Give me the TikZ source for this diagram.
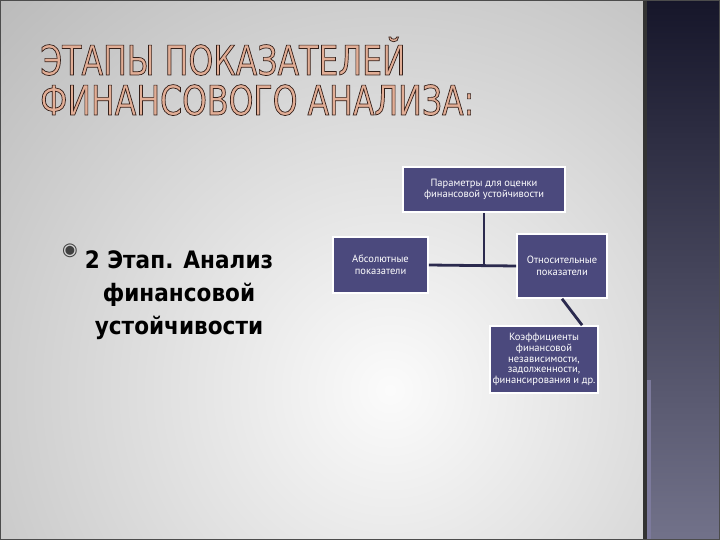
\documentclass[tikz,border=0pt]{standalone}
\usepackage{fontspec}
\setmainfont{PT Sans}
\newfontfamily\titlefont[FakeStretch=0.77]{DejaVu Sans}
\newfontfamily\stagefont[FakeStretch=0.9]{DejaVu Sans Bold}
\newfontfamily\symfont{DejaVu Sans}
\usetikzlibrary{positioning}
\definecolor{boxFill}{HTML}{4B497D}
\definecolor{linkDark}{HTML}{2B2A4E}
\definecolor{titleCopper}{HTML}{E2AE96}
\definecolor{stripTop}{HTML}{16162A}
\definecolor{stripBottom}{HTML}{72728A}
\definecolor{stripEdge}{HTML}{7C7A9C}
\newcommand{\outlinedText}[1]{\special{pdf:literal direct 2 Tr 0.7 w 0.2 0.12 0.1 RG}#1\special{pdf:literal direct 0 Tr}}

\begin{document}
\begin{tikzpicture}[x=1pt, y=-1pt,
	paramBox/.style={rectangle, draw=white, line width=1.6pt, fill=boxFill, text=white, align=center, inner sep=2pt, font=\fontsize{10.5}{11.5}\selectfont},
	link/.style={draw=linkDark, line width=2.8pt}]
		\useasboundingbox (0,0) rectangle (720,540);

		% slide background
		\fill[gray!80] (0,0) rectangle (643,540);
		\begin{scope}
			\clip (0,0) rectangle (643,540);
			\shade[inner color=white!97!gray, outer color=gray!80] (390,390) circle (840);
		\end{scope}
		\shade[top color=stripTop, bottom color=stripBottom] (643,0) rectangle (720,540);
		\fill[black!80] (643,0) rectangle (647,540);
		\fill[stripEdge] (647,380) rectangle (651,540);
		\draw[black!70, line width=1.5pt] (0,0) rectangle (720,540);

		% title
		\node[anchor=base west, inner sep=0, text=titleCopper, font=\titlefont\fontsize{41}{44}\selectfont](titleTop) at (40,75){\outlinedText{ЭТАПЫ ПОКАЗАТЕЛЕЙ}};
		\node[anchor=base west, inner sep=0, text=titleCopper, font=\titlefont\fontsize{41}{44}\selectfont](titleBottom) at (40,115){\outlinedText{ФИНАНСОВОГО АНАЛИЗА:}};

		% stage text
		\node[text=gray!50!black, inner sep=0, font=\symfont\fontsize{18}{18}\selectfont](bulletMark) at (70,251){◉};
		\node[anchor=north, align=center, inner sep=0, font=\stagefont\fontsize{24}{33}\selectfont](stageText) at (179,250){2 Этап. Анализ\\финансовой\\устойчивости};

		% boxes
		\node[paramBox, minimum width=162, minimum height=45](paramTop) at (484,189.5){Параметры для оценки\\финансовой устойчивости};
		\node[paramBox, minimum width=95, minimum height=56](absBox) at (380.5,265){Абсолютные\\показатели};
		\node[paramBox, minimum width=90, minimum height=64](relBox) at (562,266){Относительные\\показатели};
		\node[paramBox, minimum width=108, minimum height=67, font=\fontsize{10.5}{10.7}\selectfont](coefBox) at (544,359.5){Коэффициенты\\финансовой\\независимости,\\задолженности,\\финансирования и др.};

		% draw links
		\draw[link] (paramTop.south) -- (paramTop.south |- absBox.east);
		\draw[link] (absBox.east) -- (relBox.west);
		\draw[link] (relBox.south) -- (coefBox.42);
	\end{tikzpicture}
\end{document}
